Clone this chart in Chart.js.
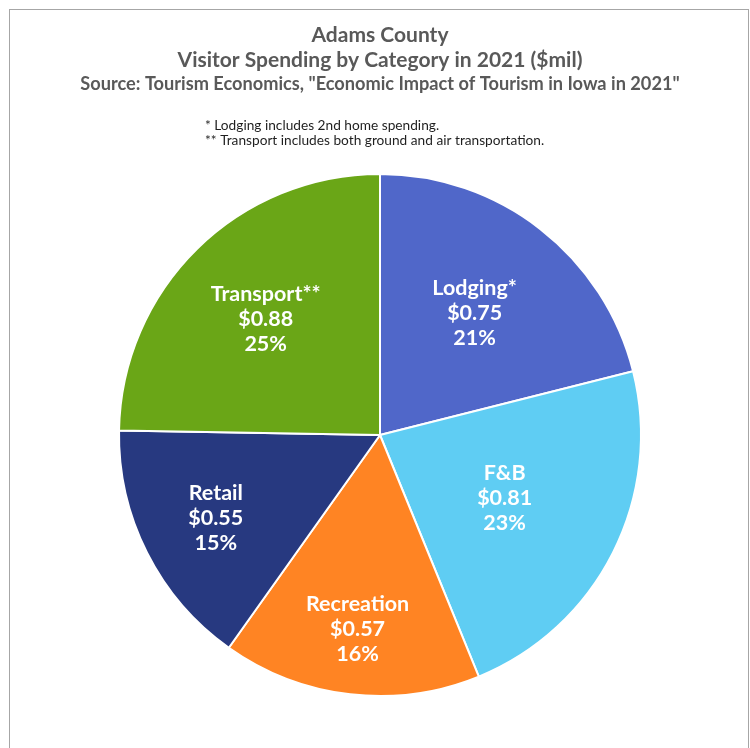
<!DOCTYPE html>
<html>
<head>
<meta charset="utf-8">
<script src="https://cdn.jsdelivr.net/npm/chart.js@4/dist/chart.umd.min.js"></script>
<style>
  html, body { margin: 0; padding: 0; background: #ffffff; }
  body { width: 750px; height: 748px; position: relative; overflow: hidden; }
  #frame {
    position: absolute; left: 9px; top: 9px; width: 738px; height: 760px;
    border-left: 1px solid #a6a6a6; border-top: 1px solid #a6a6a6; border-right: 1px solid #a6a6a6;
  }
  #wrap { position: absolute; left: 0; top: 0; width: 750px; height: 748px; }
</style>
</head>
<body>
<div id="frame"></div>
<div id="wrap"><canvas id="chart" width="750" height="748"></canvas></div>
<script>
// Visitor spending by category, $ millions
const categories = ["Lodging*", "F&B", "Recreation", "Retail", "Transport**"];
const spending = [0.75, 0.81, 0.57, 0.55, 0.88];
const percentLabels = ["21%", "23%", "16%", "15%", "25%"];

const titleLines = ["Adams County", "Visitor Spending by Category in 2021 ($mil)"];
const sourceLine = 'Source: Tourism Economics, "Economic Impact of Tourism in Iowa in 2021"';
const footnotes = ["* Lodging includes 2nd home spending.", "** Transport includes both ground and air transportation."];

// slice colours and how far out (fraction of radius) each label sits
const sliceColors = ["#5067C9", "#5FCDF3", "#FF8423", "#273980", "#6AA617"];
const labelRadius = [0.59, 0.535, 0.75, 0.705, 0.625];

const headerText = {
  id: "headerText",
  afterDraw(chart) {
    const ctx = chart.ctx;
    ctx.save();
    ctx.fillStyle = "#595959";
    ctx.textAlign = "center";
    ctx.textBaseline = "middle";
    ctx.font = "bold 21px Lato";
    ctx.fillText(titleLines[0], 380, 35);
    ctx.fillText(titleLines[1], 380, 60);
    ctx.font = "bold 18.2px Lato";
    ctx.fillText(sourceLine, 380, 84);
    ctx.fillStyle = "#1f1f1f";
    ctx.textAlign = "left";
    ctx.font = "13.7px Lato";
    ctx.fillText(footnotes[0], 205, 126);
    ctx.fillText(footnotes[1], 205, 141);
    ctx.restore();
  }
};

const sliceLabels = {
  id: "sliceLabels",
  afterDatasetsDraw(chart) {
    const ctx = chart.ctx;
    const meta = chart.getDatasetMeta(0);
    ctx.save();
    ctx.fillStyle = "#ffffff";
    ctx.textAlign = "center";
    ctx.textBaseline = "middle";
    ctx.font = "bold 21.5px Lato";
    meta.data.forEach((arc, i) => {
      const p = arc.getProps(["x", "y", "startAngle", "endAngle", "outerRadius"], true);
      const mid = (p.startAngle + p.endAngle) / 2;
      const r = p.outerRadius * labelRadius[i];
      const cx = p.x + Math.cos(mid) * r;
      const cy = p.y + Math.sin(mid) * r;
      const lines = [categories[i], "$" + spending[i].toFixed(2), percentLabels[i]];
      lines.forEach((t, k) => ctx.fillText(t, cx, cy + (k - 1) * 25));
    });
    ctx.restore();
  }
};

new Chart(document.getElementById("chart"), {
  type: "pie",
  data: {
    labels: categories,
    datasets: [{
      data: spending,
      backgroundColor: sliceColors,
      borderColor: "#ffffff",
      borderWidth: 2
    }]
  },
  options: {
    responsive: false,
    animation: false,
    layout: { padding: { left: 118, right: 108, top: 173, bottom: 51 } },
    plugins: {
      legend: { display: false },
      tooltip: { enabled: false }
    }
  },
  plugins: [headerText, sliceLabels]
});
</script>
</body>
</html>
